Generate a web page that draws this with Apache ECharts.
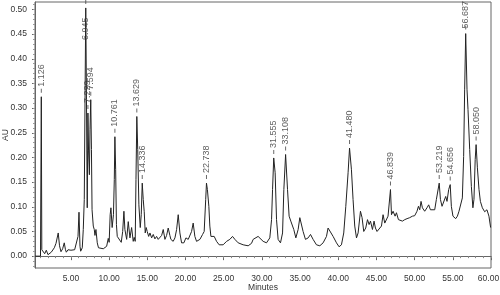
<!DOCTYPE html>
<html>
<head>
<meta charset="utf-8">
<script src="https://cdn.jsdelivr.net/npm/echarts@6/dist/echarts.min.js"></script>
<style>html,body{margin:0;padding:0;background:#fff}#c{width:500px;height:295px}</style>
</head>
<body>
<div id="c"></div>
<script>
// Chromatogram trace: retention time (min) and absorbance (AU)
const traceTimes = [0.3,1.02,1.07,1.126,1.19,1.35,1.57,1.78,2.00,2.22,2.43,2.66,2.83,3.05,3.34,3.51,3.70,3.92,4.13,4.29,4.40,4.62,4.79,5.01,5.27,5.49,5.70,5.93,6.06,6.19,6.28,6.49,6.62,6.75,6.87,6.945,7.04,7.14,7.19,7.23,7.31,7.42,7.50,7.60,7.69,7.77,7.93,8.06,8.15,8.28,8.45,8.61,8.80,9.24,9.46,9.68,9.89,10.01,10.14,10.24,10.40,10.57,10.68,10.76,10.86,10.96,11.07,11.33,11.59,11.78,11.94,12.07,12.30,12.51,12.73,12.95,13.16,13.29,13.42,13.52,13.63,13.75,13.90,14.08,14.21,14.34,14.47,14.60,14.73,14.86,14.99,15.18,15.35,15.57,15.78,16.00,16.22,16.43,16.65,16.88,17.09,17.31,17.53,17.74,17.96,18.09,18.39,18.62,18.84,19.05,19.27,19.49,19.79,20.06,20.36,20.58,20.80,21.01,21.23,21.45,21.69,21.89,22.24,22.45,22.65,22.75,22.87,23.06,23.19,23.33,23.55,23.76,24.07,24.41,24.93,25.38,25.81,26.16,26.47,26.90,27.55,28.21,28.65,28.86,29.09,29.51,29.74,30.17,30.61,31.04,31.27,31.40,31.555,31.74,31.92,32.13,32.44,32.71,32.88,33.108,33.36,33.57,33.79,34.01,34.18,34.45,34.75,34.97,35.19,35.40,35.71,36.06,36.37,36.71,37.15,37.59,38.02,38.46,38.67,38.89,39.33,39.77,40.11,40.42,40.72,40.99,41.29,41.48,41.73,41.94,42.16,42.39,42.60,42.91,43.12,43.34,43.60,43.83,44.04,44.22,44.48,44.69,44.87,45.08,45.34,45.66,45.87,46.09,46.31,46.52,46.84,46.97,47.18,47.44,47.62,47.88,48.14,48.40,48.71,49.01,49.36,49.71,50.01,50.31,50.50,50.67,50.84,51.02,51.32,51.62,51.84,52.07,52.33,52.63,52.85,53.22,53.38,53.59,53.85,54.07,54.24,54.46,54.66,54.81,55.02,55.38,55.60,55.81,56.03,56.25,56.42,56.55,56.687,56.86,56.99,57.21,57.43,57.63,57.77,57.93,58.05,58.22,58.43,58.61,58.87,59.17,59.47,59.73,59.95];
const traceValues = [0,0,0,0.323,0.013,0.010,0.005,0.012,0.003,0.005,0.008,0.007,0.017,0.026,0.047,0.021,0.009,0.015,0.027,0.013,0.008,0.013,0.010,0.012,0.015,0.013,0.017,0.040,0.089,0.020,0.010,0.017,0.054,0.115,0.357,0.503,0.317,0.098,0.215,0.290,0.215,0.165,0.256,0.317,0.216,0.094,0.061,0.054,0.042,0.054,0.027,0.017,0.017,0.015,0.017,0.020,0.036,0.028,0.084,0.098,0.058,0.084,0.155,0.242,0.175,0.064,0.040,0.042,0.028,0.050,0.091,0.054,0.034,0.070,0.037,0.058,0.030,0.038,0.030,0.155,0.283,0.216,0.104,0.058,0.084,0.148,0.115,0.090,0.047,0.058,0.050,0.040,0.047,0.037,0.044,0.035,0.040,0.034,0.030,0.042,0.054,0.034,0.042,0.057,0.042,0.034,0.030,0.037,0.054,0.084,0.047,0.027,0.027,0.037,0.034,0.034,0.050,0.067,0.040,0.030,0.030,0.034,0.044,0.050,0.115,0.148,0.135,0.101,0.061,0.040,0.037,0.040,0.030,0.023,0.023,0.030,0.034,0.040,0.034,0.027,0.023,0.021,0.026,0.034,0.030,0.040,0.037,0.030,0.027,0.037,0.074,0.135,0.199,0.169,0.074,0.034,0.027,0.047,0.135,0.206,0.135,0.081,0.071,0.071,0.054,0.037,0.054,0.078,0.074,0.050,0.034,0.037,0.044,0.034,0.023,0.021,0.027,0.040,0.057,0.061,0.040,0.027,0.019,0.023,0.047,0.101,0.169,0.219,0.175,0.115,0.061,0.037,0.047,0.091,0.078,0.050,0.057,0.074,0.064,0.071,0.054,0.071,0.057,0.050,0.050,0.061,0.084,0.067,0.064,0.081,0.135,0.084,0.091,0.081,0.088,0.074,0.078,0.071,0.074,0.076,0.078,0.081,0.082,0.091,0.101,0.094,0.111,0.098,0.091,0.098,0.104,0.094,0.091,0.094,0.115,0.148,0.115,0.101,0.104,0.121,0.111,0.135,0.145,0.101,0.081,0.076,0.081,0.091,0.094,0.118,0.202,0.337,0.451,0.337,0.297,0.216,0.141,0.098,0.115,0.196,0.226,0.179,0.135,0.111,0.098,0.090,0.094,0.081,0.058];

// Annotated peaks
const peakLabels = ['1.126','6.945','7.229','7.594','10.761','13.629','14.336','22.738','31.555','33.108','41.480','46.839','53.219','54.656','56.687','58.050'];
const peakTimes  = [1.126,6.945,7.23,7.60,10.76,13.63,14.34,22.75,31.555,33.108,41.48,46.84,53.22,54.66,56.687,58.05];
const peakHeights= [0.323,0.503,0.290,0.317,0.242,0.283,0.148,0.148,0.199,0.206,0.219,0.135,0.148,0.145,0.451,0.226];

// Axis ticks
const xTickLabels = [5,10,15,20,25,30,35,40,45,50,55,60];
const yTickLabels = [0,0.05,0.10,0.15,0.20,0.25,0.30,0.35,0.40,0.45,0.50];
const xMinorTicks = []; for (let i = 1; i <= 60; i++) xMinorTicks.push(i);
const yMinorTicks = []; for (let i = -2; i <= 51; i++) yMinorTicks.push(+(i*0.01).toFixed(2));

const FONT = 'Liberation Sans, Arial, sans-serif';
const AX = '#666';

const chart = echarts.init(document.getElementById('c'), null, {renderer: 'canvas'});
const lineData = traceTimes.map((t, i) => [t, traceValues[i]]);
const peakData = peakTimes.map((t, i) => {
  const d = {name: peakLabels[i], value: [t, peakHeights[i]]};
  if (peakLabels[i] === '6.945') d.label = {position: 'bottom', distance: 36};
  if (peakLabels[i] === '56.687') { d.label = {distance: -3}; }
  return d;
});

chart.setOption({
  animation: false,
  grid: {left: 35, right: 9, top: 2, bottom: 27, containLabel: false, outerBoundsMode: 'none',
         show: true, borderColor: AX, borderWidth: 1, backgroundColor: 'transparent'},
  xAxis: [{
    type: 'value', min: 0.3, max: 60,
    name: 'Minutes', nameLocation: 'middle', nameGap: 15, nameMoveOverlap: false,
    nameTextStyle: {fontSize: 8.5, color: '#333', fontFamily: FONT},
    axisLine: {show: true, lineStyle: {color: AX}},
    axisTick: {show: true, length: 4, customValues: xTickLabels, lineStyle: {color: AX}},
    axisLabel: {show: true, customValues: xTickLabels,
      formatter: v => v === 60 ? '{r|' + v.toFixed(2) + '}' : v.toFixed(2),
      rich: {r: {fontSize: 8.5, color: '#333', fontFamily: FONT, padding: [0, 5, 0, 0]}},
      fontSize: 8.5, color: '#333', fontFamily: FONT, margin: 6},
    splitLine: {show: false}
  }, {
    type: 'value', min: 0.3, max: 60, position: 'bottom', gridIndex: 0,
    axisLine: {show: false},
    axisTick: {show: true, length: 2, customValues: xMinorTicks, lineStyle: {color: '#888'}},
    axisLabel: {show: false}, splitLine: {show: false}
  }],
  yAxis: [{
    type: 'value', min: -0.024, max: 0.515,
    name: 'AU', nameLocation: 'middle', nameGap: 25, nameMoveOverlap: false,
    nameTextStyle: {fontSize: 8.5, color: '#333', fontFamily: FONT},
    axisLine: {show: true, lineStyle: {color: AX}},
    axisTick: {show: true, length: 3, customValues: yTickLabels, lineStyle: {color: AX}},
    axisLabel: {show: true, customValues: yTickLabels, formatter: v => v.toFixed(2), fontSize: 8.5, color: '#333', fontFamily: FONT, margin: 8},
    splitLine: {show: false}
  }, {
    type: 'value', min: -0.024, max: 0.515, position: 'left',
    axisLine: {show: false},
    axisTick: {show: true, length: 2, customValues: yMinorTicks, lineStyle: {color: '#999'}},
    axisLabel: {show: false}, splitLine: {show: false}
  }],
  series: [{
    type: 'line', data: lineData, showSymbol: false, symbol: 'none',
    lineStyle: {color: '#222', width: 1}, z: 2
  }, {
    type: 'scatter', data: peakData,
    symbol: 'rect', symbolSize: [1, 4], symbolOffset: [0, -6],
    itemStyle: {color: '#444'}, z: 3,
    label: {
      show: true, formatter: p => p.name, rotate: 90,
      position: 'top', distance: 2, align: 'left', verticalAlign: 'middle',
      fontSize: 9, color: '#333', fontFamily: FONT
    }
  }]
});
</script>
</body>
</html>
